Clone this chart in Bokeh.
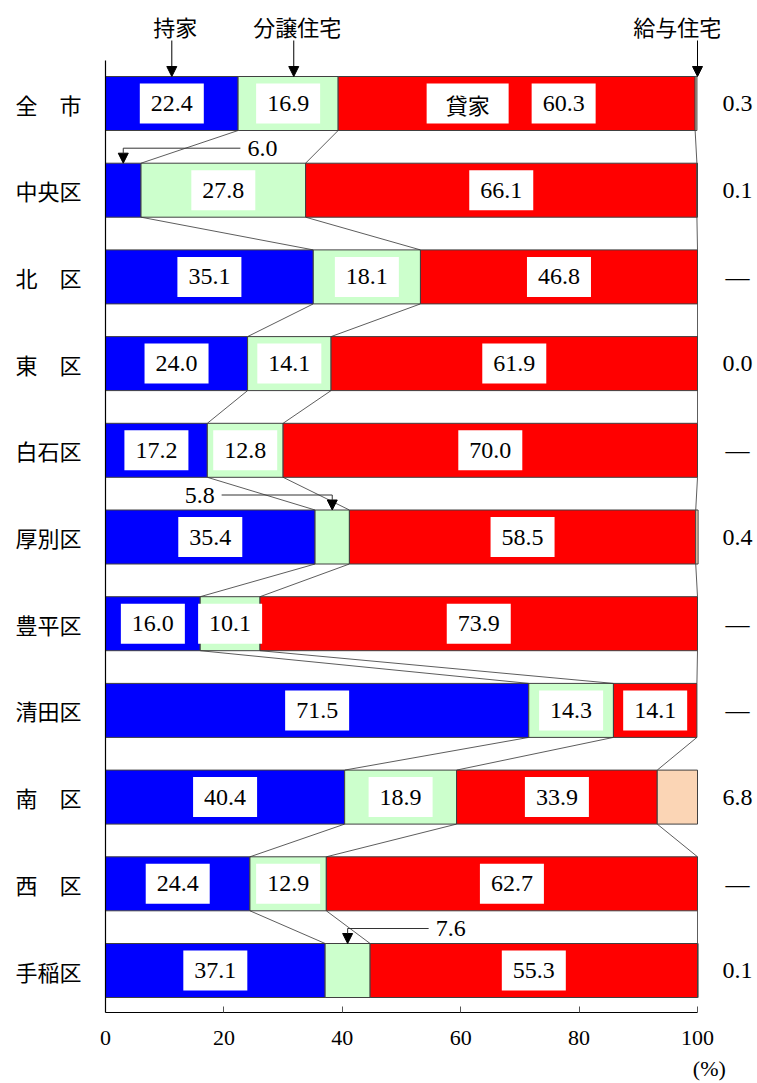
from bokeh.plotting import figure
from bokeh.models import Range1d, FixedTicker, Arrow, NormalHead, LinearAxis
from bokeh.core.properties import value
from bokeh.embed import file_html
from bokeh.resources import INLINE

# 住宅の所有関係別割合（区別, %）
wards = ["全　市", "中央区", "北　区", "東　区", "白石区", "厚別区",
         "豊平区", "清田区", "南　区", "西　区", "手稲区"]
owned = [22.4, 6.0, 35.1, 24.0, 17.2, 35.4, 16.0, 71.5, 40.4, 24.4, 37.1]     # 持家
condo = [16.9, 27.8, 18.1, 14.1, 12.8, 5.8, 10.1, 14.3, 18.9, 12.9, 7.6]      # 分譲住宅
rented = [60.3, 66.1, 46.8, 61.9, 70.0, 58.5, 73.9, 14.1, 33.9, 62.7, 55.3]   # 貸家
issued = [0.3, 0.1, None, 0.0, None, 0.4, None, None, 6.8, None, 0.1]         # 給与住宅
series_names = ["持家", "分譲住宅", "貸家", "給与住宅"]
x_ticks = [0, 20, 40, 60, 80, 100]
unit_label = "(%)"

colors = ["#0000FF", "#CCFFCC", "#FF0000", "#FBD5B5"]
EDGE = "#404040"
NUM_NAME = "Liberation Serif"
JP_NAME = "Noto Sans CJK JP"
NUM_FONT = value(NUM_NAME)
JP_FONT = value(JP_NAME)
NUM_SIZE = "24px"

W, H = 757, 1083
LEFT, BOTTOM = 105, 71
PX_PER_PCT = 5.92
ROW_PX = 86.7
FIRST_ROW_PX = 103
BAR_H = 54 / ROW_PX
n = len(wards)

frame_w = W - LEFT
frame_h = H - BOTTOM
x_end = frame_w / PX_PER_PCT
y_top = -FIRST_ROW_PX / ROW_PX
y_bottom = (frame_h - FIRST_ROW_PX) / ROW_PX

p = figure(width=W, height=H, output_backend="svg", toolbar_location=None,
           x_range=Range1d(0, x_end), y_range=Range1d(y_bottom, y_top),
           min_border_left=LEFT, min_border_right=0, min_border_top=0,
           min_border_bottom=BOTTOM)
p.outline_line_color = None
p.xgrid.visible = False
p.ygrid.visible = False
p.background_fill_color = "white"

# axes
xa = p.xaxis[0]
xa.ticker = FixedTicker(ticks=x_ticks)
xa.bounds = (0, 100)
xa.axis_line_color = "black"
xa.axis_line_width = 1.2
xa.major_tick_in = 6
xa.major_tick_out = 0
xa.major_tick_line_color = "#555555"
xa.minor_tick_line_color = None
xa.major_label_standoff = 18
xa.major_label_text_font = NUM_NAME
xa.major_label_text_font_size = "22px"
xa.major_label_text_color = "black"

# unit text under the 100 tick
unit_axis = LinearAxis(ticker=FixedTicker(ticks=[102]),
                       major_label_overrides={102: unit_label},
                       axis_line_color=None, major_tick_line_color=None,
                       minor_tick_line_color=None, major_tick_in=0,
                       major_tick_out=0, major_label_standoff=8,
                       major_label_text_font=NUM_NAME,
                       major_label_text_font_size="22px",
                       major_label_text_color="black")
p.add_layout(unit_axis, "below")

ya = p.yaxis[0]
ya.ticker = FixedTicker(ticks=list(range(n)))
ya.major_label_overrides = {i: w for i, w in enumerate(wards)}
ya.bounds = (-(BAR_H / 2 + 16 / ROW_PX), y_bottom)
ya.axis_line_color = "black"
ya.axis_line_width = 1.2
ya.major_tick_line_color = None
ya.minor_tick_line_color = None
ya.major_label_standoff = 18
ya.major_label_text_font = JP_NAME
ya.major_label_text_font_size = "22px"
ya.major_label_text_color = "black"

# stacked segments
series = [owned, condo, rented, issued]
starts = [[0.0] * n]
for s in series[:-1]:
    prev = starts[-1]
    starts.append([prev[i] + s[i] for i in range(n)])

for k, s in enumerate(series):
    ys, ls, rs = [], [], []
    for i in range(n):
        if s[i] is None:
            continue
        ys.append(i)
        ls.append(starts[k][i])
        rs.append(starts[k][i] + s[i])
    p.hbar(y=ys, left=ls, right=rs, height=BAR_H, fill_color=colors[k],
           line_color=EDGE, line_width=1)

# connector lines between neighbouring bars
half = BAR_H / 2
for k in (1, 2, 3):
    b = starts[k]
    p.segment(x0=b[:-1], y0=[i + half for i in range(n - 1)],
              x1=b[1:], y1=[i + 1 - half for i in range(n - 1)],
              line_color="#333333", line_width=0.8)

# value boxes inside segments
bx, by, bt = [], [], []
LEGEND_SHIFT = 49 / PX_PER_PCT
VALUE_SHIFT = 47 / PX_PER_PCT
for k, s in enumerate(series[:3]):
    for i in range(n):
        v = s[i]
        if v is None or v < 10:
            continue
        cx = starts[k][i] + v / 2
        if i == 0 and k == 2:
            cx += VALUE_SHIFT
        bx.append(cx)
        by.append(i)
        bt.append(f"{v:.1f}")

p.rect(x=bx, y=by, width=64, height=40, width_units="screen",
       height_units="screen", fill_color="white", line_color=None)
p.text(x=bx, y=by, text=bt, text_align="center", text_baseline="middle",
       text_font=NUM_FONT, text_font_size=NUM_SIZE, text_color="black")

# series name inside the 全市 rented segment
lx = starts[2][0] + rented[0] / 2 - LEGEND_SHIFT
p.rect(x=[lx], y=[0], width=82, height=40, width_units="screen",
       height_units="screen", fill_color="white", line_color=None)
p.text(x=[lx], y=[0], text=[series_names[2]], text_align="center",
       text_baseline="middle", text_font=JP_FONT, text_font_size="22px",
       text_color="black")

# callouts for narrow segments: (row, series index, text x, text side)
callouts = [(1, 0, 26.5, "right"), (5, 1, 15.9, "left"), (10, 1, 58.3, "right")]
head = dict(size=10, fill_color="black", line_color="black")
for row, k, tx, side in callouts:
    v = series[k][row]
    ax = starts[k][row] + v / 2
    ly = row - half - 15 / ROW_PX
    gap = 22 / PX_PER_PCT
    lx_end = tx - gap if side == "right" else tx + gap
    p.segment(x0=[ax], y0=[ly], x1=[lx_end], y1=[ly], line_color="#333333",
              line_width=1)
    p.add_layout(Arrow(end=NormalHead(**head), x_start=ax, y_start=ly,
                       x_end=ax, y_end=row - half, line_color="#333333",
                       line_width=1))
    p.text(x=[tx], y=[ly], text=[f"{v:.1f}"], text_align="center",
           text_baseline="middle", text_font=NUM_FONT, text_font_size=NUM_SIZE,
           text_color="black")

# 給与住宅 values in the right column
rx = 632 / PX_PER_PCT
p.text(x=[rx] * n, y=list(range(n)),
       text=["—" if v is None else f"{v:.1f}" for v in issued],
       text_align="center", text_baseline="middle", text_font=NUM_FONT,
       text_font_size=NUM_SIZE, text_color="black")

# series headers with arrows
hy = -78 / ROW_PX
arrow_top = -63 / ROW_PX
header_pos = [(11.8, starts[0][0] + owned[0] / 2),
              (32.4, 31.8),
              (96.6, 100.0)]
for name, (tx, ax) in zip([series_names[0], series_names[1], series_names[3]],
                          header_pos):
    p.text(x=[tx], y=[hy], text=[name], text_align="center",
           text_baseline="middle", text_font=JP_FONT, text_font_size="22px",
           text_color="black")
    p.add_layout(Arrow(end=NormalHead(**head), x_start=ax, y_start=arrow_top,
                       x_end=ax, y_end=-half, line_color="black",
                       line_width=1))

open("out.html", "w").write(file_html(p, INLINE))
